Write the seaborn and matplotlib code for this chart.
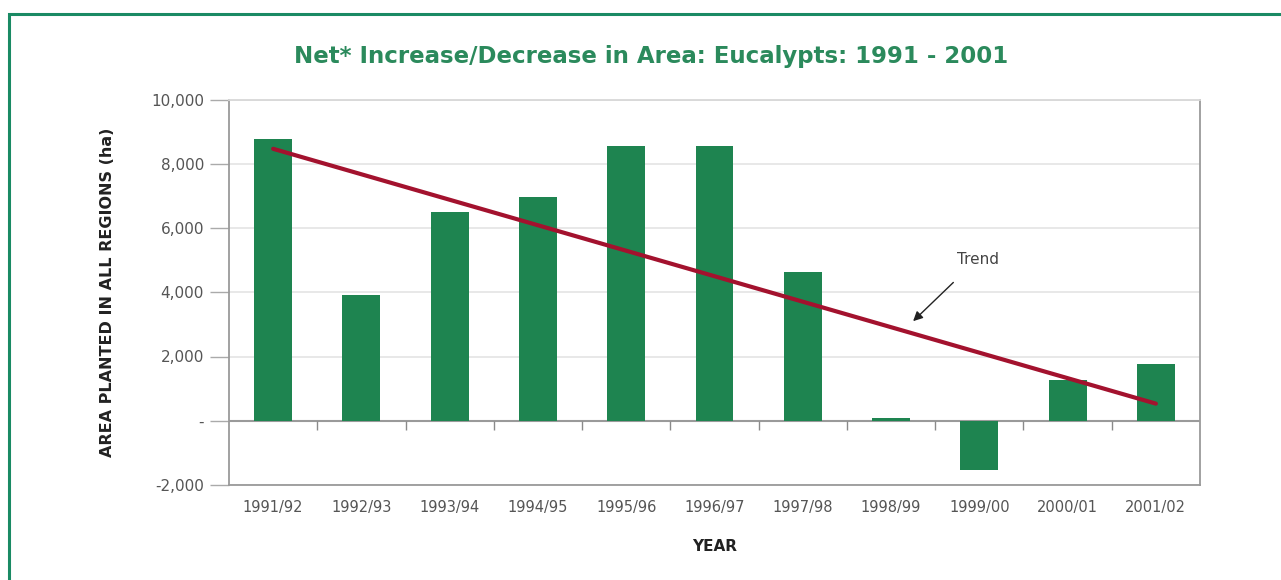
import numpy as np
import pandas as pd
import matplotlib
matplotlib.use("Agg")
import matplotlib.pyplot as plt
from matplotlib.patches import Rectangle
from matplotlib.ticker import FuncFormatter
import seaborn as sns

years = ["1991/92", "1992/93", "1993/94", "1994/95", "1995/96", "1996/97",
         "1997/98", "1998/99", "1999/00", "2000/01", "2001/02"]
net_area = [8770, 3900, 6500, 6980, 8550, 8550, 4640, 80, -1540, 1280, 1780]
y_ticks = [-2000, 0, 2000, 4000, 6000, 8000, 10000]

title = "Net* Increase/Decrease in Area: Eucalypts: 1991 - 2001"
ylabel = "AREA PLANTED IN ALL REGIONS (ha)"
xlabel = "YEAR"

sns.set_theme(style="white")
plt.rcParams['font.family'] = ['DejaVu Sans']

df = pd.DataFrame({"year": years, "area": net_area})

fig = plt.figure(figsize=(12.81, 5.80), dpi=100)
ax = fig.add_axes([229/1281, 1-485/580, (1200-229)/1281, (485-99.5)/580])

green = "#1e8450"
sns.barplot(data=df, x="year", y="area", color=green, width=0.43,
            saturation=1, linewidth=0, ax=ax, zorder=3)

# trend line (least squares fit of the data)
xs = np.arange(len(years))
k, b = np.polyfit(xs, net_area, 1)
ax.plot(xs, k*xs + b, color="#a3122e", lw=3, zorder=4, solid_capstyle="round")

ax.set_ylim(-2000, 10000)
ax.set_xlim(-0.5, len(years)-0.5)
ax.set_yticks(y_ticks)
ax.yaxis.set_major_formatter(FuncFormatter(lambda v, p: "-" if v == 0 else f"{int(v):,}"))
ax.grid(axis="y", color="#e4e4e4", lw=1.2, zorder=0)
ax.axhline(0, color="#9a9a9a", lw=1.5, zorder=2)
ax.vlines(xs[1:] - 0.5, -280, 0, color="#8a8a8a", lw=1, zorder=2)

for s in ["left", "bottom", "right", "top"]:
    ax.spines[s].set_visible(True)
    ax.spines[s].set_color("#9a9a9a")
    ax.spines[s].set_linewidth(1.3)
ax.spines["top"].set_color("#d8d8d8")

ax.tick_params(axis="y", left=True, length=14, width=1, color="#aaaaaa",
               labelsize=11, labelcolor="#555555", pad=4)
ax.tick_params(axis="x", bottom=False, labelsize=10.5, labelcolor="#555555", pad=5)

ax.set_xlabel(xlabel, fontsize=11, fontweight="bold", color="#222222", labelpad=17)
ax.set_ylabel(ylabel, fontsize=11.5, fontweight="bold", color="#222222", labelpad=26)

fig.text(651/1281, 1-57/580, title, ha="center", va="center", fontsize=16.5,
         fontweight="bold", color="#2b8a5c")

ax.annotate("Trend", xy=(7.25, 3100), xytext=(7.98, 5030),
            fontsize=11, color="#444444", ha="center", va="center",
            arrowprops=dict(arrowstyle="-|>", color="#222222", lw=1,
                            shrinkA=13, shrinkB=0, mutation_scale=14))

fig.patches.append(Rectangle((9/1281, -0.1), 1.1, 1 - 14/580 + 0.1,
                             transform=fig.transFigure, fill=False,
                             edgecolor="#1a8a64", lw=2.2, zorder=10))

fig.savefig("out.png", dpi=100)
